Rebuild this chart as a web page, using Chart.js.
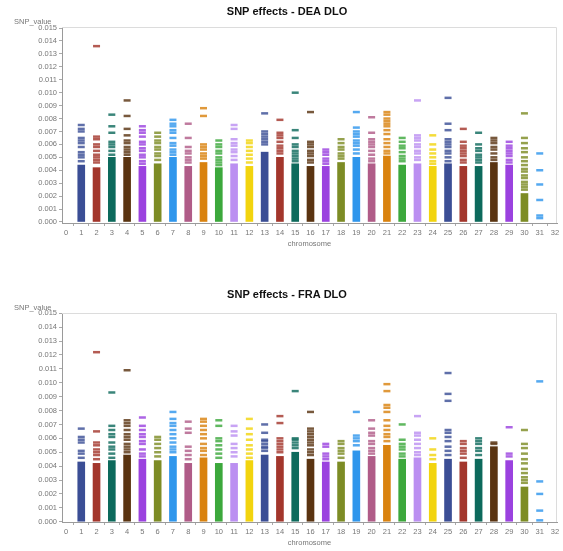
<!DOCTYPE html>
<html><head><meta charset="utf-8">
<script src="https://cdn.jsdelivr.net/npm/chart.js@4.4.1/dist/chart.umd.min.js"></script>
<style>
html,body{margin:0;padding:0;background:#fff;width:563px;height:551px;overflow:hidden}
.wrap{position:absolute;left:0;width:563px}
canvas{display:block}
</style></head><body>
<div class="wrap" style="top:0;height:252px"><canvas id="c1" width="563" height="252" style="width:563px;height:252px"></canvas></div>
<div class="wrap" style="top:280px;height:271px"><canvas id="c2" width="563" height="271" style="width:563px;height:271px"></canvas></div>
<script>
const chromosomes = [1,2,3,4,5,6,7,8,9,10,11,12,13,14,15,16,17,18,19,20,21,22,23,24,25,26,27,28,29,30,31];
const xTickLabels = ['0','1','2','3','4','5','6','7','8','9','10','11','12','13','14','15','16','17','18','19','20','21','22','23','24','25','26','27','28','29','30','31','32'];
const yTickLabels = ['0.000','0.001','0.002','0.003','0.004','0.005','0.006','0.007','0.008','0.009','0.010','0.011','0.012','0.013','0.014','0.015'];

// dense core of each chromosome's strip (0 .. value)
const deaCore = [0.0044,0.0042,0.0050,0.0050,0.0043,0.0045,0.0050,0.0043,0.0046,0.0042,0.0045,0.0043,0.0054,0.0050,0.0045,0.0043,0.0043,0.0046,0.0050,0.0045,0.0051,0.0044,0.0045,0.0043,0.0045,0.0043,0.0043,0.0046,0.0044,0.0022,null];
// individual SNP effects above the dense core
const deaPoints = [
 [0.0075,0.0072,0.0070,0.0065,0.0063,0.0061,0.0058,0.0054,0.0052,0.0050,0.0047],
 [0.0136,0.0066,0.0064,0.0060,0.0058,0.0055,0.0052,0.0050,0.0048,0.0046],
 [0.0083,0.0074,0.0069,0.0062,0.0060,0.0058,0.0055,0.0052],
 [0.0094,0.0082,0.0072,0.0067,0.0063,0.0061,0.0058,0.0056,0.0054,0.0052],
 [0.0074,0.0071,0.0069,0.0066,0.0062,0.0060,0.0057,0.0055,0.0052,0.0050,0.0047,0.0045],
 [0.0069,0.0066,0.0063,0.0061,0.0058,0.0056,0.0053,0.0051,0.0048],
 [0.0079,0.0076,0.0074,0.0071,0.0069,0.0065,0.0061,0.0059,0.0056,0.0054,0.0052],
 [0.0076,0.0065,0.0058,0.0055,0.0053,0.0050,0.0048,0.0046],
 [0.0088,0.0082,0.0060,0.0058,0.0056,0.0053,0.0051,0.0049],
 [0.0063,0.0060,0.0058,0.0055,0.0053,0.0050,0.0048,0.0046,0.0044],
 [0.0075,0.0072,0.0064,0.0061,0.0059,0.0056,0.0054,0.0051,0.0048],
 [0.0063,0.0061,0.0058,0.0055,0.0052,0.0049,0.0046],
 [0.0084,0.0070,0.0068,0.0066,0.0064,0.0062,0.0060],
 [0.0079,0.0069,0.0067,0.0065,0.0062,0.0059,0.0057,0.0055,0.0053],
 [0.0100,0.0071,0.0065,0.0060,0.0058,0.0055,0.0053,0.0051,0.0049,0.0047],
 [0.0085,0.0062,0.0060,0.0058,0.0055,0.0053,0.0051,0.0048,0.0046],
 [0.0056,0.0054,0.0052,0.0049,0.0047,0.0045],
 [0.0064,0.0061,0.0058,0.0056,0.0053,0.0051,0.0049],
 [0.0085,0.0073,0.0070,0.0068,0.0066,0.0063,0.0061,0.0059,0.0056,0.0053],
 [0.0081,0.0069,0.0064,0.0062,0.0060,0.0058,0.0055,0.0052,0.0049,0.0047],
 [0.0085,0.0083,0.0080,0.0078,0.0076,0.0074,0.0071,0.0068,0.0064,0.0061,0.0058,0.0055,0.0053],
 [0.0065,0.0062,0.0059,0.0057,0.0054,0.0051,0.0049,0.0047],
 [0.0094,0.0067,0.0065,0.0063,0.0060,0.0058,0.0055,0.0053,0.0050,0.0048],
 [0.0067,0.0060,0.0056,0.0053,0.0050,0.0047,0.0045],
 [0.0096,0.0076,0.0071,0.0064,0.0062,0.0060,0.0058,0.0055,0.0053,0.0050,0.0047],
 [0.0072,0.0062,0.0059,0.0057,0.0055,0.0053,0.0051,0.0048,0.0046],
 [0.0069,0.0060,0.0057,0.0055,0.0052,0.0050,0.0048,0.0046],
 [0.0065,0.0063,0.0061,0.0058,0.0056,0.0053,0.0050,0.0048],
 [0.0062,0.0059,0.0057,0.0055,0.0053,0.0051,0.0048,0.0046],
 [0.0084,0.0065,0.0061,0.0057,0.0054,0.0050,0.0047,0.0044,0.0041,0.0039,0.0036,0.0034,0.0031,0.0029,0.0027,0.0025],
 [0.0053,0.0040,0.0029,0.0017,0.0005,0.0003]
];

const fraCore = [0.0043,0.0042,0.0044,0.0048,0.0045,0.0044,0.0047,0.0042,0.0046,0.0042,0.0042,0.0044,0.0048,0.0047,0.0050,0.0045,0.0043,0.0043,0.0051,0.0047,0.0055,0.0045,0.0046,0.0042,0.0045,0.0043,0.0045,0.0054,0.0044,0.0025,null];
const fraPoints = [
 [0.0067,0.0061,0.0059,0.0057,0.0051,0.0049,0.0046],
 [0.0122,0.0065,0.0057,0.0055,0.0052,0.0050,0.0048,0.0045],
 [0.0093,0.0069,0.0066,0.0063,0.0061,0.0057,0.0054,0.0052,0.0049,0.0046],
 [0.0109,0.0073,0.0071,0.0069,0.0066,0.0063,0.0061,0.0059,0.0056,0.0054,0.0052,0.0050],
 [0.0075,0.0069,0.0066,0.0063,0.0061,0.0058,0.0056,0.0052,0.0049,0.0047],
 [0.0061,0.0059,0.0056,0.0053,0.0050,0.0047],
 [0.0079,0.0074,0.0071,0.0069,0.0066,0.0063,0.0060,0.0057,0.0054,0.0052,0.0050],
 [0.0072,0.0067,0.0064,0.0054,0.0051,0.0048,0.0045],
 [0.0074,0.0072,0.0069,0.0066,0.0063,0.0060,0.0056,0.0053,0.0051,0.0048],
 [0.0073,0.0069,0.0060,0.0058,0.0055,0.0052,0.0049,0.0046],
 [0.0069,0.0065,0.0062,0.0056,0.0053,0.0050,0.0047],
 [0.0074,0.0067,0.0063,0.0059,0.0055,0.0052,0.0049,0.0046],
 [0.0070,0.0064,0.0059,0.0058,0.0056,0.0054,0.0053,0.0051],
 [0.0076,0.0071,0.0060,0.0058,0.0056,0.0054,0.0052,0.0050],
 [0.0094,0.0060,0.0059,0.0057,0.0055,0.0053],
 [0.0079,0.0067,0.0065,0.0063,0.0061,0.0059,0.0057,0.0055,0.0052,0.0050,0.0048],
 [0.0056,0.0054,0.0049,0.0047,0.0045],
 [0.0058,0.0056,0.0053,0.0051,0.0049,0.0046],
 [0.0079,0.0062,0.0060,0.0058,0.0055],
 [0.0073,0.0067,0.0064,0.0062,0.0058,0.0056,0.0053,0.0051,0.0049],
 [0.0099,0.0094,0.0084,0.0082,0.0079,0.0073,0.0069,0.0066,0.0063,0.0061,0.0058],
 [0.0070,0.0059,0.0056,0.0054,0.0052,0.0049,0.0047],
 [0.0076,0.0064,0.0062,0.0059,0.0056,0.0053,0.0050,0.0048],
 [0.0060,0.0052,0.0048,0.0045],
 [0.0107,0.0092,0.0087,0.0066,0.0064,0.0061,0.0058,0.0054,0.0051,0.0048],
 [0.0058,0.0056,0.0053,0.0051,0.0049,0.0046],
 [0.0060,0.0058,0.0056,0.0053,0.0051,0.0048],
 [0.0057,0.0056],
 [0.0068,0.0049,0.0047],
 [0.0066,0.0056,0.0053,0.0049,0.0045,0.0042,0.0038,0.0035,0.0032,0.0030,0.0028],
 [0.0101,0.0029,0.0020,0.0008,0.0001]
];

// styling
const palette = ['#3b4e95','#a3362c','#0d6a5c','#5a3411','#9b42df','#7d8c25','#2f96ec','#b05c88','#d9820f','#3ca83c','#bb8ff1','#f2d40e'];
const colorFor = c => palette[(c - 1) % palette.length];
const FONT = '"Liberation Sans", Arial, sans-serif';

const framePlugin = {
  id: 'frame',
  beforeDatasetsDraw(chart) {
    const {ctx, chartArea: a} = chart;
    ctx.save();
    ctx.strokeStyle = '#dcdcdc';
    ctx.lineWidth = 1;
    ctx.beginPath();
    ctx.moveTo(a.left, Math.round(a.top) + 0.5);
    ctx.lineTo(Math.round(a.right) - 0.5, Math.round(a.top) + 0.5);
    ctx.lineTo(Math.round(a.right) - 0.5, a.bottom);
    ctx.stroke();
    ctx.restore();
  },
  afterDraw(chart) {
    const {ctx, chartArea: a} = chart;
    const o = chart.options.plugins.frame;
    ctx.save();
    ctx.fillStyle = '#111';
    ctx.font = 'bold 11px ' + FONT;
    ctx.textAlign = 'center';
    ctx.textBaseline = 'middle';
    ctx.fillText(o.title, 287, o.titleY);
    ctx.fillStyle = '#777';
    ctx.font = '7.5px ' + FONT;
    ctx.textAlign = 'left';
    ctx.fillText('SNP_value', 14, a.top - 5);
    ctx.restore();
  }
};

function build(id, titleText, core, points, yMin, yMax, topPad, titleY) {
  const barData = [];
  chromosomes.forEach((c, i) => { if (core[i] != null) barData.push({x: c, y: [0, core[i]]}); });
  const ptData = [];
  chromosomes.forEach((c, i) => points[i].forEach(v => ptData.push({x: c, y: v})));
  return new Chart(document.getElementById(id), {
    type: 'bar',
    data: {
      datasets: [
        {
          type: 'bar', data: barData, order: 2,
          backgroundColor: ctx => colorFor(ctx.raw ? ctx.raw.x : 1),
          barThickness: 7, borderWidth: 0, grouped: false
        },
        {
          type: 'scatter', data: ptData, order: 1, showLine: false,
          pointStyle: 'line', pointRadius: 3.5, pointHoverRadius: 3.5,
          pointBorderWidth: 2.5,
          pointBorderColor: ctx => colorFor(ctx.raw ? ctx.raw.x : 1) + 'd0',
          pointBackgroundColor: ctx => colorFor(ctx.raw ? ctx.raw.x : 1),
          borderColor: 'transparent', backgroundColor: 'transparent'
        }
      ]
    },
    options: {
      responsive: false, animation: false, devicePixelRatio: 1,
      layout: {padding: {left: 0, right: 5, top: topPad, bottom: 0}},
      plugins: {
        legend: {display: false}, tooltip: {enabled: false},
        title: {display: false},
        frame: {title: titleText, titleY: titleY}
      },
      scales: {
        x: {
          type: 'linear', min: -0.26, max: 32.13, offset: false,
          afterBuildTicks: s => { s.ticks = xTickLabels.map(t => ({value: Number(t)})); },
          afterFit: s => { s.height = 29; },
          ticks: {color: '#777', font: {family: FONT, size: 7.5}, padding: 2, maxRotation: 0, autoSkip: false,
            callback: (v, i) => xTickLabels[i]},
          grid: {display: true, drawOnChartArea: false, tickLength: 3, color: '#aaa'},
          border: {display: true, color: '#9a9a9a'},
          title: {display: true, text: 'chromosome', color: '#777', font: {family: FONT, size: 7.5}, padding: {top: 0, bottom: 4}}
        },
        y: {
          type: 'linear', min: yMin, max: yMax,
          afterBuildTicks: s => { s.ticks = yTickLabels.map(t => ({value: Number(t)})); },
          afterFit: s => { s.width = 62; },
          ticks: {color: '#777', font: {family: FONT, size: 7.5}, padding: 2, autoSkip: false,
            callback: (v, i) => yTickLabels[i]},
          grid: {display: true, drawOnChartArea: false, tickLength: 3, color: '#aaa'},
          border: {display: true, color: '#9a9a9a'}
        }
      }
    },
    plugins: [framePlugin]
  });
}

build('c1', 'SNP effects - DEA DLO', deaCore, deaPoints, -0.00008, 0.01508, 27, 12);
build('c2', 'SNP effects - FRA DLO', fraCore, fraPoints, -0.00002, 0.01502, 33, 15);
</script>
</body></html>
